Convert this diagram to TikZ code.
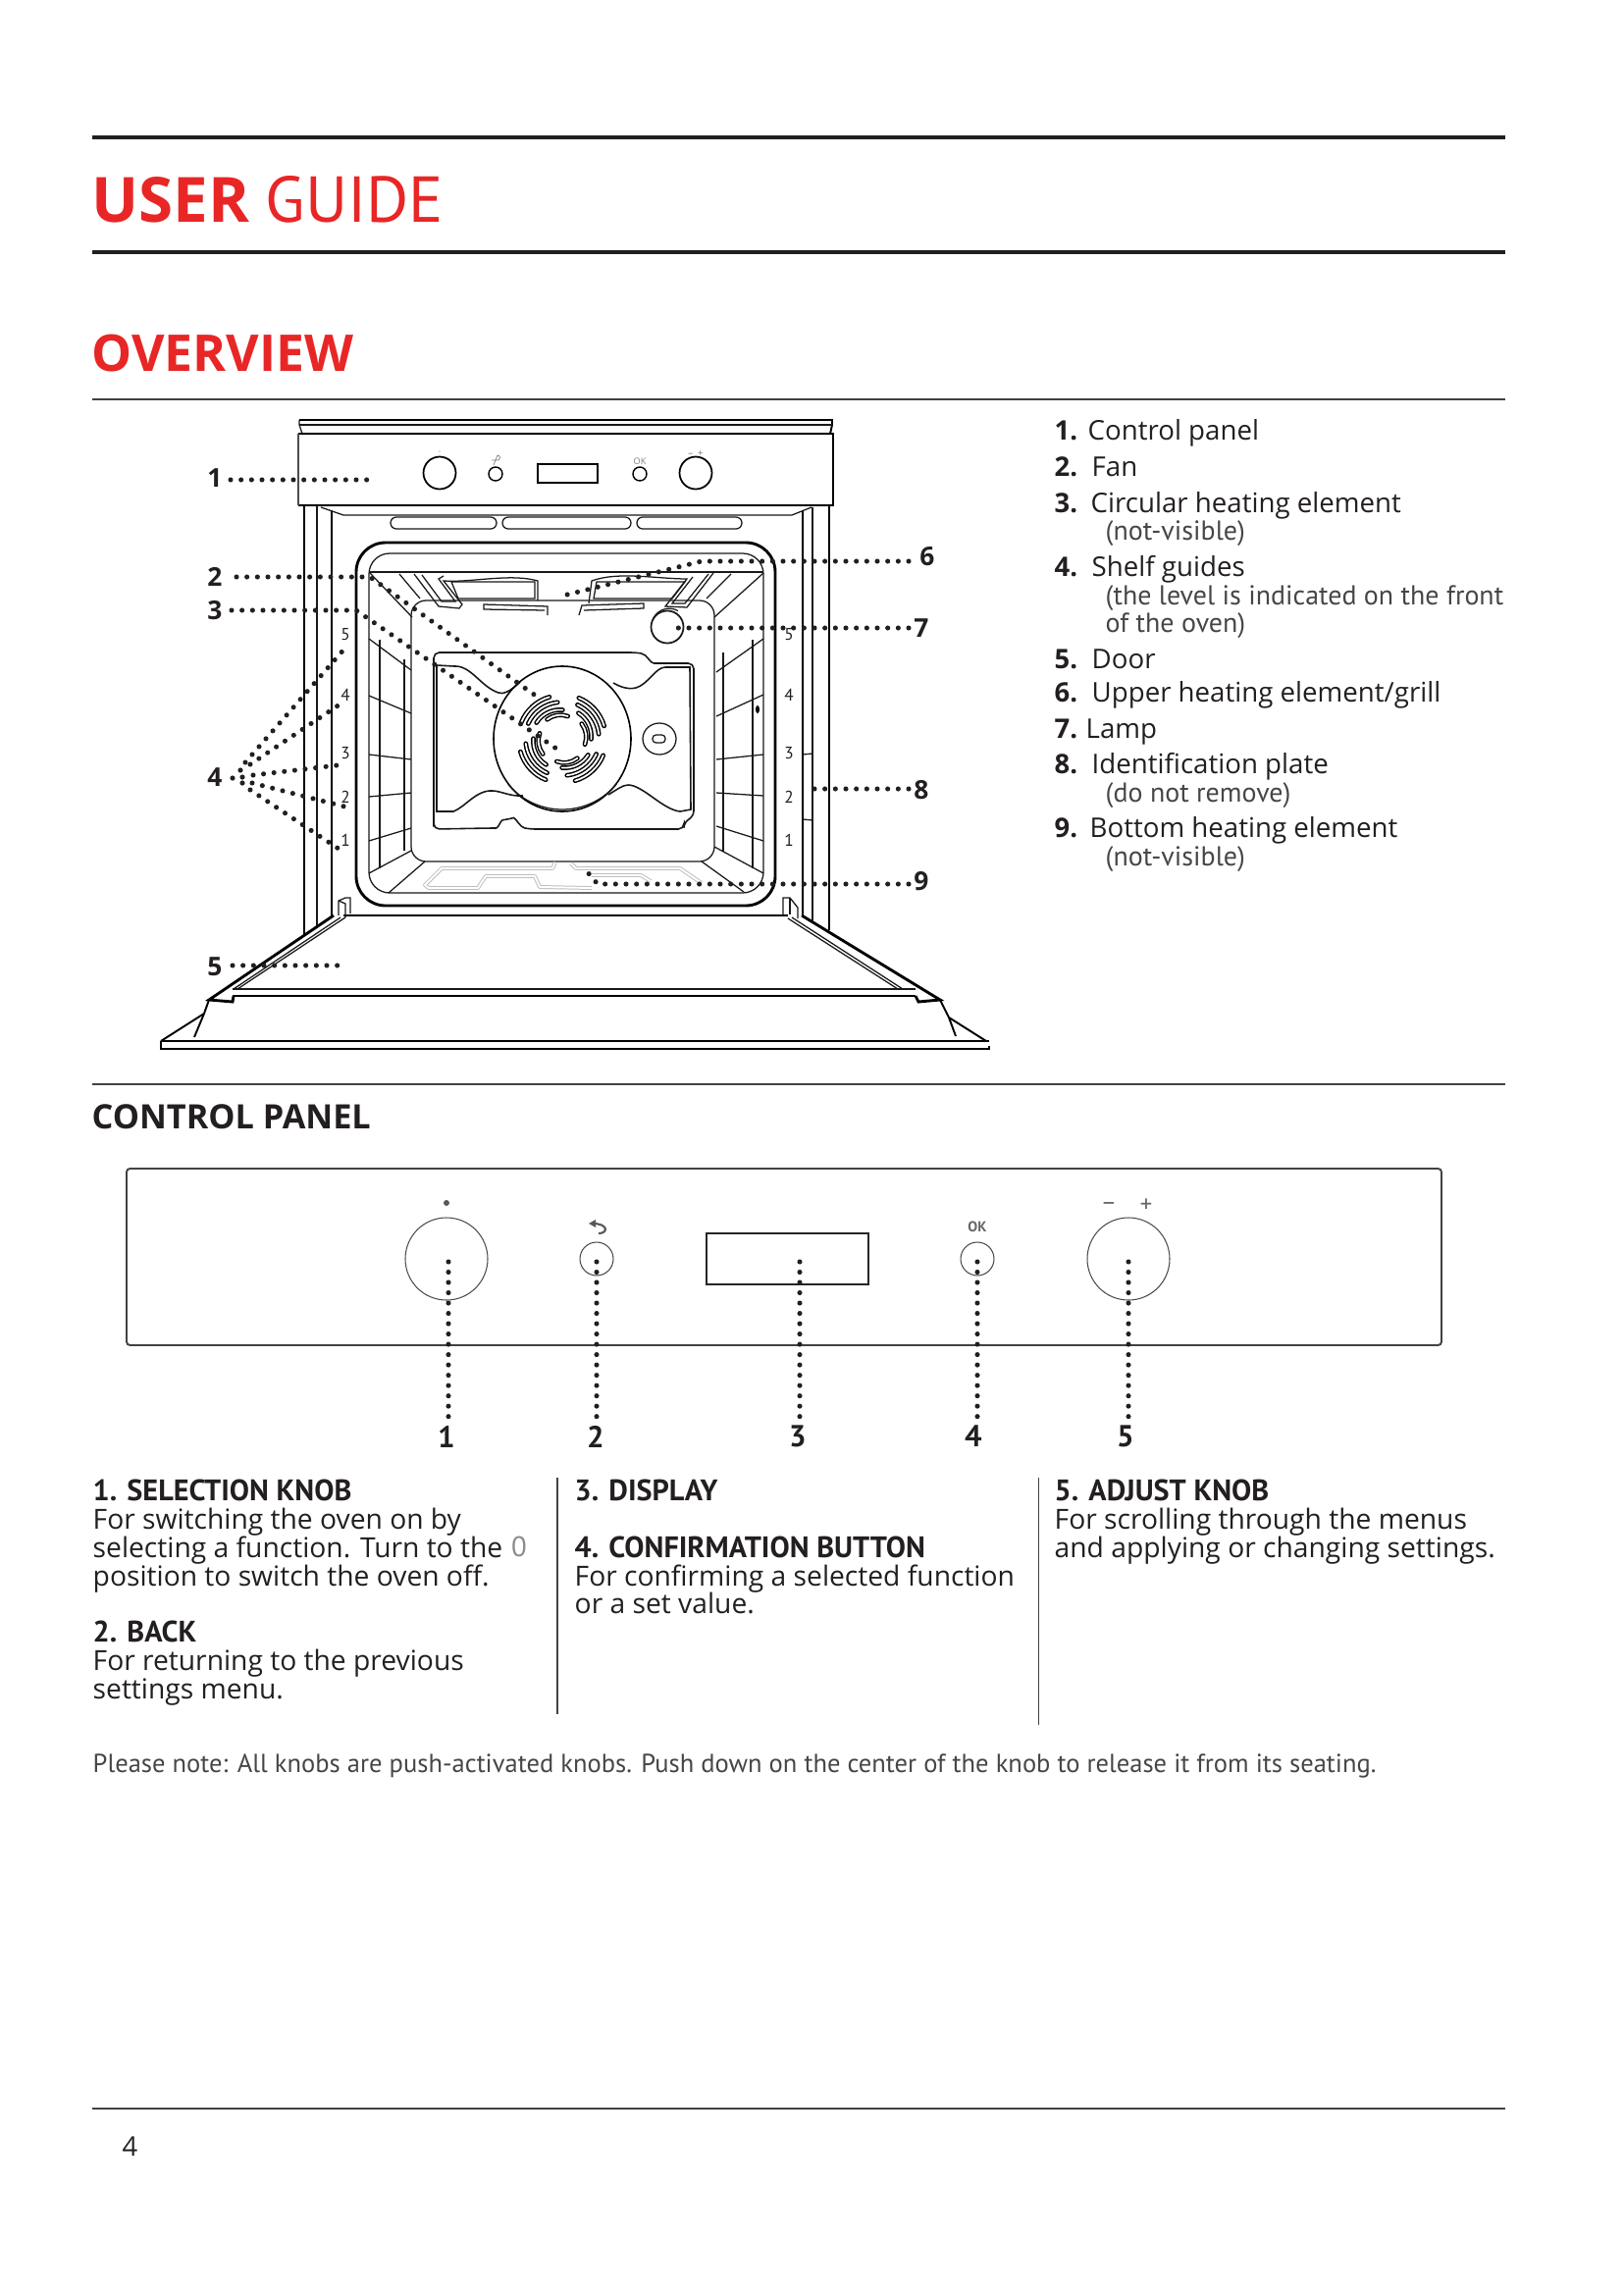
\documentclass[tikz,border=0pt]{standalone}
\usepackage{xcolor}
\usepackage{fontspec}
\usepackage{tikz}
\setmainfont{Open Sans}
\newfontfamily\ptsans{PT Sans}
\usetikzlibrary{positioning,calc}
\definecolor{guidered}{RGB}{232, 38, 38}
\definecolor{inkblack}{RGB}{35, 31, 32}
\definecolor{notegray}{RGB}{70, 70, 70}
\definecolor{elementgray}{RGB}{190, 190, 190}

\begin{document}
\begin{tikzpicture}[x=0.1mm, y=-0.1mm]
    % Styles
    \tikzstyle{heavyrule} = [inkblack, line width=1.05pt]
    \tikzstyle{lightrule} = [inkblack!85, line width=0.38pt]
    \tikzstyle{oventhick} = [black, line width=0.82pt]
    \tikzstyle{ovenline} = [black, line width=0.55pt]
    \tikzstyle{oventhin} = [black!90, line width=0.36pt]
    \tikzstyle{dotline} = [inkblack, line width=1.45pt, line cap=round, dash pattern=on 0pt off 3.035pt]
    \tikzstyle{dropline} = [inkblack, line width=1.45pt, line cap=round, dash pattern=on 0pt off 2.99pt]
    \tikzstyle{slot} = [black, line width=0.42pt, double=white, double distance=0.5pt, line cap=round]
    \tikzstyle{heatcoil} = [elementgray, line width=0.28pt, double=white, double distance=0.55pt, line join=round]
    \tikzstyle{calloutnum} = [inkblack, inner sep=0pt, anchor=center, font=\fontsize{7.5}{8}\selectfont\bfseries]
    \tikzstyle{levelnum} = [inkblack, inner sep=0pt, anchor=center, font=\fontsize{4.9}{5}\selectfont\ptsans]
    \tikzstyle{listnum} = [inkblack, inner sep=0pt, anchor=base west, font=\fontsize{7.8}{9}\selectfont\bfseries]
    \tikzstyle{listtext} = [inkblack, inner sep=0pt, anchor=base west, font=\fontsize{7.87}{9}\selectfont]
    \tikzstyle{listsub} = [notegray, inner sep=0pt, anchor=base west, font=\fontsize{7.95}{9}\selectfont\ptsans]
    \tikzstyle{cphead} = [inkblack, inner sep=0pt, anchor=base west, font=\fontsize{8.6}{9}\selectfont\ptsans\bfseries]
    \tikzstyle{cptext} = [inkblack, inner sep=0pt, anchor=base west, font=\fontsize{8.03}{9}\selectfont]
    \tikzstyle{panelnum} = [inkblack, inner sep=2.5pt, anchor=center, font=\fontsize{8.8}{9}\selectfont\ptsans\bfseries]
    \tikzstyle{knob} = [circle, draw=black!70, line width=0.3pt, inner sep=0pt]

    \useasboundingbox (0,0) rectangle (1654,2339);

    % Page rules
    \coordinate (ruleleft) at (94,0);
    \coordinate (ruleright) at (1534,0);
    \draw[heavyrule] (ruleleft |- 0,140) -- (ruleright |- 0,140);
    \draw[heavyrule] (ruleleft |- 0,257) -- (ruleright |- 0,257);
    \draw[lightrule] (ruleleft |- 0,407) -- (ruleright |- 0,407);
    \draw[lightrule] (ruleleft |- 0,1105) -- (ruleright |- 0,1105);
    \draw[lightrule] (ruleleft |- 0,2149) -- (ruleright |- 0,2149);

    % Titles
    \node[inner sep=0pt, anchor=base west, text=guidered, font=\fontsize{18.1}{20}\selectfont\bfseries] (userword) at (93,227) {USER};
    \node[inner sep=0pt, anchor=base west, text=guidered, font=\fontsize{18.8}{20}\selectfont\ptsans] (guideword) at (270,227) {GUIDE};
    \node[inner sep=0pt, anchor=base west, text=guidered, font=\fontsize{14.7}{16}\selectfont\bfseries] (overview) at (93,378) {OVERVIEW};
    \node[inner sep=0pt, anchor=base west, text=inkblack, font=\fontsize{9.75}{12}\selectfont\bfseries] (cptitle) at (93,1150) {CONTROL PANEL};

    % Oven top and control panel
    \draw[ovenline] (305,428) -- (848,428) -- (848,433) -- (846,442);
    \draw[oventhin] (305,428) -- (305,433) -- (308,442);
    \draw[oventhin] (305,433) -- (848,433);
    \draw[oventhick] (304,515) -- (849,515) -- (849,442) -- (304,442);
    \draw[ovenline, black!70] (304,442) -- (304,515);
    \node[knob, draw=black, line width=0.5pt, minimum size=33*0.2845pt] (miniselect) at (448,482) {};
    \node[knob, draw=black, line width=0.4pt, minimum size=14*0.2845pt] (miniback) at (505,483) {};
    \draw[ovenline] (548,473) rectangle (609,492);
    \node[knob, draw=black, line width=0.4pt, minimum size=14*0.2845pt] (miniok) at (652,483) {};
    \node[knob, draw=black, line width=0.5pt, minimum size=33*0.2845pt] (miniadjust) at (709,482) {};
    \node[inner sep=0pt, gray, font=\fontsize{2.6}{3}\selectfont] (minioklabel) at (652,470) {OK};
    \node[inner sep=0pt, gray, font=\fontsize{3}{3}\selectfont] (miniplus) at (709,462) {– \,+};
    \fill[gray] (448,460) circle (0.7);
    \draw[gray, line width=0.2pt] (501,469) -- (507,469) arc[start angle=90, end angle=-90, radius=2.5] -- (503,474);

    % Oven body
    \draw[oventhick] (310,515) -- (310,952);
    \draw[oventhin] (323,515) -- (323,943);
    \draw[ovenline] (338,520) -- (338,933);
    \draw[ovenline] (818,521) -- (818,933);
    \draw[oventhin] (828,517) -- (828,938);
    \draw[oventhick] (845,515) -- (845,948);
    \draw[oventhin] (327,517) -- (350,525) -- (807,525) -- (827,517);
    \foreach \xa/\xb in {398/506, 512/643, 649/756}
        \draw[oventhin, rounded corners=1.7pt] (\xa,527) rectangle (\xb,539);
    \draw[oventhin] (818,769) -- (828,768);
    \draw[oventhin] (818,835) -- (828,836);

    % Door frame and cavity
    \draw[oventhick, rounded corners=8.5pt] (363,553) rectangle (790,923);
    \draw[oventhin, rounded corners=6pt] (376,564) rectangle (778,910);
    \draw[oventhin, rounded corners=4.3pt] (419,612) rectangle (728,878);
    \draw[oventhin] (376,583) -- (778,583);
    \draw[oventhin] (377,584) -- (420,629);
    \draw[oventhin] (778,584) -- (728,629);
    \draw[oventhin] (407,585) -- (428,610);
    \draw[oventhin] (745,585) -- (720,610);
    \draw[oventhin] (376,890) -- (419,867);
    \draw[oventhin] (396,910) -- (433,878);
    \draw[oventhin] (728,863) -- (778,890);
    \draw[oventhin] (715,878) -- (758,909);

    % Shelf guides
    \draw[oventhin] (387,652) -- (387,885);
    \draw[oventhin] (412,672) -- (412,867);
    \draw[oventhin] (737,665) -- (737,868);
    \draw[oventhin] (767,652) -- (767,885);
    \foreach \ya/\yb in {651/683, 709/727, 769/774, 812/808, 857/844}
        \draw[oventhin] (376,\ya) -- (419,\yb);
    \foreach \ya/\yb in {685/651, 730/708, 774/769, 808/811, 842/857}
        \draw[oventhin] (730,\ya) -- (778,\yb);
    \fill[black] (772,723) ellipse (2 and 4);
    \foreach \lvl/\ypos in {5/647, 4/708, 3/768, 2/812, 1/856} {
        \node[levelnum] (levelL\lvl) at (352,\ypos) {\lvl};
        \node[levelnum] (levelR\lvl) at (804,\ypos) {\lvl};
    }

    % Upper heating element
    \draw[oventhin] (422,585) -- (447,618) -- (468,620) -- (471,616) -- (452,592) .. controls (480,594) and (520,584) .. (548,592) -- (548,612);
    \draw[oventhin] (430,586) -- (450,613) -- (464,613) -- (447,590) -- (452,587);
    \draw[oventhin] (460,593) -- (545,593) -- (545,610) -- (467,610) -- cycle;
    \draw[oventhin] (558,627) -- (558,618) -- (493,616) -- (493,621) -- (555,622);
    \draw[oventhin] (590,627) -- (593,617) -- (656,615) -- (656,620) -- (595,622);
    \draw[oventhin] (600,615) -- (603,592) .. controls (630,582) and (670,590) .. (700,590) -- (678,618) -- (700,619) -- (727,584);
    \draw[oventhin] (722,585) -- (698,615) -- (685,615) -- (706,588);
    \draw[oventhin] (608,593) -- (698,593) -- (685,610) -- (605,610) -- cycle;

    % Lamp
    \draw[oventhin, line width=0.5pt] (680,639) circle (16.5);
    \draw[oventhin] (665,632) arc[start angle=200, end angle=300, radius=18];

    % Rear plate and fan
    \draw[oventhin, line width=0.45pt, rounded corners=1.6pt] (442,837) -- (442,665) -- (648,665) .. controls (660,667) and (662,676) .. (672,676) -- (707,676) -- (707,832) -- (697,838) -- (697,845) -- (540,845) .. controls (530,843) and (525,833) .. (518,835) .. controls (510,836) and (508,844) .. (500,844) -- (442,845) -- cycle;
    \draw[oventhin, line width=0.45pt] (530,695) .. controls (520,705) and (512,708) .. (508,706) .. controls (490,700) and (480,678) .. (463,679) -- (445,678) -- (445,827) -- (462,827) .. controls (475,822) and (485,805) .. (502,806) .. controls (510,806) and (520,812) .. (533,811);
    \draw[oventhin, line width=0.45pt] (625,696) .. controls (632,700) and (640,703) .. (648,701) .. controls (660,698) and (668,680) .. (678,680) -- (703,680) -- (704,825) -- (693,827) .. controls (675,825) and (655,800) .. (640,800) .. controls (635,800) and (628,805) .. (620,810);
    \draw[ovenline, line width=0.45pt] (573,753) ellipse (70 and 74);
    \draw[oventhin] (573,753) ++(40:72) arc[start angle=40, end angle=140, x radius=72, y radius=72];
    \foreach \ang in {0,-90,-180,-270} {
        \begin{scope}[shift={(573,753)}, x=0.1mm, y=0.1mm, rotate=\ang]
            \draw[slot] (158:45) arc[start angle=158, end angle=106, radius=44];
            \draw[slot] (156:38) arc[start angle=156, end angle=96, radius=37];
            \draw[slot] (148:31) arc[start angle=148, end angle=84, radius=28];
            \draw[slot] (128:25) arc[start angle=128, end angle=70, radius=22];
        \end{scope}
    }
    \draw[oventhin] (672,753) ellipse (17 and 16);
    \draw[oventhin, rounded corners=1pt] (665,749) rectangle (678,757);

    % Bottom heating element
    \draw[heatcoil] (566,879) -- (563,885) -- (450,885) -- (433,902) -- (437,905) -- (487,905) -- (495,893) -- (545,893) -- (550,904) -- (603,905);
    \draw[heatcoil] (582,880) -- (587,885) -- (693,885) -- (715,900);
    \draw[heatcoil] (603,892) -- (653,892) -- (663,898);

    % Door
    \draw[oventhick] (350,933) -- (803,933);
    \draw[oventhick] (340,933) -- (213,1019) -- (237,1021) -- (238,1015);
    \draw[oventhin] (352,935) -- (242,1008);
    \draw[oventhin] (347,935) -- (238,1008);
    \draw[oventhin] (237,1008) -- (933,1008);
    \draw[ovenline] (237,1015) -- (933,1015);
    \draw[oventhick] (817,933) -- (958,1019) -- (936,1021) -- (933,1015);
    \draw[oventhin] (807,935) -- (920,1008);
    \draw[oventhin] (803,936) -- (915,1008);
    \draw[ovenline] (213,1019) -- (208,1033) -- (198,1057);
    \draw[ovenline] (208,1033) -- (164,1061);
    \draw[ovenline] (958,1019) -- (967,1037) -- (974,1056);
    \draw[ovenline] (967,1037) -- (1005,1061);
    \draw[ovenline] (164,1061) -- (1008,1061);
    \draw[oventhick] (164,1061) -- (164,1069) -- (1008,1069) -- (1008,1066);
    \draw[oventhin] (345,933) -- (345,918) -- (352,915) -- (357,915) -- (357,931);
    \draw[oventhin] (345,918) -- (352,921) -- (352,935);
    \draw[oventhin] (798,933) -- (798,915) -- (805,915) -- (813,925) -- (813,936);
    \draw[oventhin] (805,915) -- (805,932);

    % Oven callouts
    \node[calloutnum] (call1) at (219,487) {1};
    \node[calloutnum] (call2) at (219,588) {2};
    \node[calloutnum] (call3) at (219,622) {3};
    \node[calloutnum] (call4) at (219,792) {4};
    \node[calloutnum] (call5) at (219,985) {5};
    \node[calloutnum] (call6) at (945,567) {6};
    \node[calloutnum] (call7) at (939,640) {7};
    \node[calloutnum] (call8) at (939,805) {8};
    \node[calloutnum] (call9) at (939,898) {9};

    \coordinate (start1) at (235,489);
    \coordinate (tip1) at (375,489);
    \coordinate (start2) at (241,588);
    \coordinate (bend2) at (377,588);
    \coordinate (tip2) at (550,712);
    \coordinate (start3) at (236,622);
    \coordinate (bend3) at (363,622);
    \coordinate (tip3) at (567,763);
    \coordinate (start5) at (237,984);
    \coordinate (tip5) at (345,984);
    \coordinate (start6) at (926,572);
    \coordinate (bend6) at (715,572);
    \coordinate (tip6) at (570,608);
    \coordinate (start7) at (926,640);
    \coordinate (tip7) at (685,640);
    \coordinate (start8) at (926,804);
    \coordinate (tip8) at (829,804);
    \coordinate (start9) at (926,901);
    \coordinate (bend9) at (609,901);
    \coordinate (tip9) at (598,888);
    \draw[dotline] (start1) -- (tip1);
    \draw[dotline] (start2) -- (bend2) -- (tip2);
    \draw[dotline] (start3) -- (bend3) -- (tip3);
    \draw[dotline] (start5) -- (tip5);
    \draw[dotline] (start6) -- (bend6) -- (tip6);
    \draw[dotline] (start7) -- (tip7);
    \draw[dotline] (start8) -- (tip8);
    \draw[dotline] (start9) -- (bend9) -- (tip9);

    % Callout 4 fans out to the shelf levels
    \coordinate (start4) at (237,793);
    \foreach \lvl/\xa/\ya/\xb/\yb in {5/250/777/353/659, 4/255/779/352/714, 3/258/790/352/779, 2/257/798/351/822, 1/255/805/351/869} {
        \coordinate (fan\lvl) at (\xa,\ya);
        \coordinate (guide\lvl) at (\xb,\yb);
        \draw[dotline] (fan\lvl) -- (guide\lvl);
    }
    \fill[inkblack] (start4) circle (2.6);
    \fill[inkblack] (245,785) circle (2.6);
    \fill[inkblack] (247,792) circle (2.6);
    \fill[inkblack] (247,798) circle (2.6);

    % Overview list
    \foreach \idx/\xpos/\ypos/\txt in {1/1108/448/Control panel, 2/1112/485/Fan, 3/1111/522/Circular heating element, 4/1112/587/Shelf guides, 5/1112/681/Door, 6/1112/715/Upper heating element{/}grill, 7/1106/752/Lamp, 8/1112/788/Identification plate, 9/1110/853/Bottom heating element} {
        \node[listnum] (listnum\idx) at (1074,\ypos) {\idx.};
        \node[listtext] (listtext\idx) at (\xpos,\ypos) {\txt};
    }
    \node[listsub] (subheat) at (1126,550) {(not-visible)};
    \node[listsub] (sublevel) at (1126,616) {(the level is indicated on the front};
    \node[listsub] (suboven) at (1126,644) {of the oven)};
    \node[listsub] (subplate) at (1126,817) {(do not remove)};
    \node[listsub] (subbottom) at (1126,882) {(not-visible)};

    % Control panel
    \draw[ovenline, rounded corners=1pt, inkblack!85] (129,1191) rectangle (1469,1371);
    \node[knob, minimum size=84*0.2845pt] (knobselect) at (455,1283) {};
    \node[knob, minimum size=34*0.2845pt] (knobback) at (608,1283) {};
    \node[rectangle, draw=black!85, line width=0.35pt, inner sep=0pt, minimum width=165*0.2845pt, minimum height=52*0.2845pt] (display) at (802.5,1283) {};
    \node[knob, minimum size=34*0.2845pt] (knobok) at (996,1283) {};
    \node[knob, minimum size=84*0.2845pt] (knobadjust) at (1150,1283) {};
    \fill[black!65] (455,1226) circle (3);
    \draw[black!65, line width=0.6pt] (604,1247) .. controls (620,1247) and (620,1257) .. (610,1257);
    \fill[black!65] (600,1247) -- (607,1243) -- (607,1251) -- cycle;
    \node[inner sep=0pt, text=black!60, font=\fontsize{4.2}{5}\selectfont\ptsans\bfseries] (oklabel) at (996,1250) {OK};
    \node[inner sep=0pt, text=black!60, font=\fontsize{7}{8}\selectfont\ptsans] (minuslabel) at (1130,1229) {–};
    \node[inner sep=0pt, text=black!60, font=\fontsize{7}{8}\selectfont\ptsans] (pluslabel) at (1168,1229) {+};

    \node[panelnum] (num1) at (455,1464) {1};
    \node[panelnum] (num2) at (607,1464) {2};
    \node[panelnum] (num3) at (813,1464) {3};
    \node[panelnum] (num4) at (992,1464) {4};
    \node[panelnum] (num5) at (1147,1464) {5};
    \coordinate (drop1) at (457,1286);
    \coordinate (drop2) at (608,1286);
    \coordinate (drop3) at (815,1286);
    \coordinate (drop4) at (996,1286);
    \coordinate (drop5) at (1150,1286);
    \coordinate (end1) at (457,1445);
    \coordinate (end2) at (608,1445);
    \coordinate (end3) at (815,1445);
    \coordinate (end4) at (996,1445);
    \coordinate (end5) at (1150,1445);
    \foreach \idx in {1,...,5}
        \draw[dropline] (drop\idx) -- (end\idx);

    % Control panel texts
    \node[cphead] (headselect) at (94,1529) {1. SELECTION KNOB};
    \node[cptext] (select1) at (94,1558) {For switching the oven on by};
    \node[cptext] (select2) at (94,1587) {selecting a function. Turn to the};
    \node[inner sep=0pt, text=black!45, font=\fontsize{8.2}{9}\selectfont\ptsans] (zerosign) at (529,1576) {0};
    \node[cptext] (select3) at (94,1616) {position to switch the oven off.};
    \node[cphead] (headback) at (94,1673) {2. BACK};
    \node[cptext] (back1) at (94,1702) {For returning to the previous};
    \node[cptext] (back2) at (94,1731) {settings menu.};
    \node[cphead] (headdisplay) at (585,1529) {3. DISPLAY};
    \node[cphead] (headconfirm) at (585,1587) {4. CONFIRMATION BUTTON};
    \node[cptext] (confirm1) at (585,1616) {For confirming a selected function};
    \node[cptext] (confirm2) at (585,1644) {or a set value.};
    \node[cphead] (headadjust) at (1074,1529) {5. ADJUST KNOB};
    \node[cptext] (adjust1) at (1074,1558) {For scrolling through the menus};
    \node[cptext] (adjust2) at (1074,1587) {and applying or changing settings.};
    \draw[lightrule] (568,1506) -- (568,1747);
    \draw[lightrule] (1058.5,1506) -- (1058.5,1758);
    \node[inner sep=0pt, anchor=base west, text=notegray, font=\fontsize{7.55}{9}\selectfont\ptsans] (pleasenote) at (94,1806) {Please note: All knobs are push-activated knobs. Push down on the center of the knob to release it from its seating.};
    \node[inner sep=0pt, anchor=base west, text=inkblack, font=\fontsize{7.8}{9}\selectfont] (pagenum) at (124,2197) {4};
\end{tikzpicture}
\end{document}
